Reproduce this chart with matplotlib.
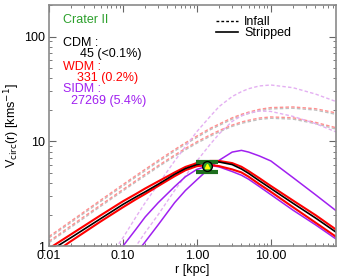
import matplotlib
matplotlib.use('Agg')
import matplotlib.pyplot as plt
from matplotlib.lines import Line2D
from matplotlib.ticker import FixedLocator, NullFormatter, LogLocator

plt.rcParams['font.family'] = ['Liberation Sans', 'DejaVu Sans']

# radios comunes [kpc]
r = [0.01, 0.02, 0.05, 0.1, 0.15, 0.2, 0.3, 0.5, 0.7, 1.0, 1.5, 2.0, 3.0, 4.0, 5.0, 7.0, 10.0, 20.0, 40.0, 76.0]

# curvas "Infall" (discontinuas)
cdm_infall_a = [1.08, 1.52, 2.4, 3.37, 4.1, 4.7, 5.7, 7.2, 8.3, 9.6, 11.15, 12.3, 13.9, 14.85, 15.4, 16.2, 16.6, 16.3, 14.75, 13.1]
cdm_infall_b = [1.2, 1.69, 2.67, 3.75, 4.58, 5.25, 6.38, 8.09, 9.4, 10.9, 12.87, 14.19, 16.28, 17.56, 18.43, 19.6, 20.4, 20.7, 19.9, 18.1]
wdm_infall_a = [1.235, 1.74, 2.75, 3.87, 4.72, 5.41, 6.58, 8.34, 9.69, 11.24, 13.27, 14.63, 16.78, 18.1, 19.0, 20.2, 21.0, 21.3, 20.5, 18.7]
wdm_infall_b = [1.11, 1.57, 2.47, 3.47, 4.22, 4.85, 5.87, 7.40, 8.56, 9.90, 11.5, 12.68, 14.3, 15.3, 15.9, 16.7, 17.1, 16.8, 15.2, 13.5]
sidm_infall_a = [0.12, 0.24, 0.6, 1.2, 1.9, 2.6, 3.9, 6.5, 8.9, 12.4, 17.2, 21.5, 26.8, 29.8, 31.8, 33.8, 34.5, 32.5, 28.3, 24.0]
sidm_infall_b = [0.065, 0.13, 0.33, 0.66, 1.0, 1.35, 2.0, 3.4, 4.7, 6.5, 9.3, 11.8, 15.5, 17.5, 18.6, 19.5, 19.3, 17.3, 14.8, 12.3]

# curvas "Stripped" (continuas)
cdm_strip = [0.89, 1.21, 1.83, 2.5, 2.95, 3.3, 3.9, 4.85, 5.5, 6.0, 6.35, 6.35, 6.0, 5.45, 4.95, 4.2, 3.55, 2.56, 1.86, 1.36]
wdm_strip_a = [0.95, 1.3, 1.97, 2.68, 3.15, 3.55, 4.15, 5.05, 5.7, 6.2, 6.5, 6.5, 6.2, 5.72, 5.2, 4.45, 3.75, 2.72, 1.98, 1.44]
wdm_strip_b = [0.8, 1.12, 1.72, 2.35, 2.8, 3.15, 3.75, 4.65, 5.3, 5.8, 5.95, 5.8, 5.4, 5.05, 4.6, 3.9, 3.3, 2.35, 1.68, 1.23]
sidm_strip_a = [0.06, 0.12, 0.3, 0.57, 0.85, 1.1, 1.6, 2.6, 3.4, 4.3, 5.6, 6.6, 7.9, 8.2, 7.9, 7.25, 6.5, 4.5, 3.1, 2.18]
sidm_strip_b = [0.1, 0.2, 0.5, 1.0, 1.45, 1.9, 2.6, 3.7, 4.6, 5.4, 5.9, 5.7, 5.15, 4.75, 4.35, 3.7, 3.1, 2.2, 1.6, 1.17]

# dato observado de Crater II
obs_r = 1.35
obs_v = 5.83
obs_err_inf = 0.76
obs_err_sup = 0.57

fig = plt.figure(figsize=(3.5, 2.8), dpi=100)
ax = fig.add_axes([0.14, 0.121, 0.82, 0.861])

estilo_disc = dict(lw=1.0, dashes=(2.5, 1.6))
ax.plot(r, cdm_infall_a, color='#c0c0c0', **estilo_disc)
ax.plot(r, cdm_infall_b, color='#c0c0c0', **estilo_disc)
ax.plot(r, wdm_infall_a, color='#ff9090', **estilo_disc)
ax.plot(r, wdm_infall_b, color='#ff9090', **estilo_disc)
ax.plot(r, sidm_infall_a, color='#e4b0f2', **estilo_disc)
ax.plot(r, sidm_infall_b, color='#e4b0f2', **estilo_disc)

ax.plot(r, sidm_strip_a, color='#a020f0', lw=1.1)
ax.plot(r, sidm_strip_b, color='#a020f0', lw=1.1)
ax.plot(r, wdm_strip_a, color='#ff0000', lw=1.5)
ax.plot(r, wdm_strip_b, color='#ff0000', lw=1.5)
ax.plot(r, cdm_strip, color='black', lw=1.2)

ax.errorbar([obs_r], [obs_v], yerr=[[obs_err_inf], [obs_err_sup]], fmt='none',
            ecolor='#1e6e1e', elinewidth=2, capsize=8, capthick=3, zorder=5)
ax.plot([obs_r], [obs_v], 'o', ms=7, mfc='#2ca02c', mec='black', mew=1, zorder=6)
ax.plot([obs_r], [obs_v], '^', ms=3, mfc='#ffff00', mec='#ffff00', zorder=7)

ax.set_xscale('log')
ax.set_yscale('log')
ax.set_xlim(0.01, 76)
ax.set_ylim(1, 200)

ax.xaxis.set_major_locator(FixedLocator([0.01, 0.1, 1, 10]))
ax.set_xticklabels(['0.01', '0.10', '1.00', '10.00'])
ax.yaxis.set_major_locator(FixedLocator([1, 10, 100]))
ax.set_yticklabels(['1', '10', '100'])
ax.xaxis.set_minor_locator(LogLocator(base=10, subs=range(2, 10)))
ax.yaxis.set_minor_locator(LogLocator(base=10, subs=range(2, 10)))
ax.xaxis.set_minor_formatter(NullFormatter())
ax.yaxis.set_minor_formatter(NullFormatter())

ax.tick_params(which='both', direction='in', top=True, right=True, color='#666666',
               labelsize=9, pad=3)
ax.tick_params(which='major', length=5)
ax.tick_params(which='minor', length=2.5)
for s in ax.spines.values():
    s.set_color('#8a8a8a')
    s.set_linewidth(1.2)

ax.set_xlabel('r [kpc]', fontsize=9, labelpad=1)
ax.set_ylabel('V$_{\\rm circ}$(r) [kms$^{-1}$]', fontsize=9, labelpad=1)

ax.text(0.049, 0.938, 'Crater II', color='#2ca02c', fontsize=9, transform=ax.transAxes, va='center')
ax.text(0.049, 0.842, 'CDM :', color='black', fontsize=9, transform=ax.transAxes, va='center')
ax.text(0.108, 0.795, '45 (<0.1%)', color='black', fontsize=9, transform=ax.transAxes, va='center')
ax.text(0.049, 0.745, 'WDM :', color='red', fontsize=9, transform=ax.transAxes, va='center')
ax.text(0.098, 0.697, '331 (0.2%)', color='red', fontsize=9, transform=ax.transAxes, va='center')
ax.text(0.049, 0.652, 'SIDM :', color='#a020f0', fontsize=9, transform=ax.transAxes, va='center')
ax.text(0.077, 0.602, '27269 (5.4%)', color='#a020f0', fontsize=9, transform=ax.transAxes, va='center')

manijas = [Line2D([], [], color='black', lw=1, dashes=(2, 1.5)),
           Line2D([], [], color='black', lw=1.2)]
ax.legend(manijas, ['Infall', 'Stripped'], loc='upper left', bbox_to_anchor=(0.55, 0.99),
          frameon=False, fontsize=9, handlelength=1.8, handletextpad=0.5,
          labelspacing=-0.1, borderaxespad=0.3)

fig.savefig('out.png', dpi=100)
